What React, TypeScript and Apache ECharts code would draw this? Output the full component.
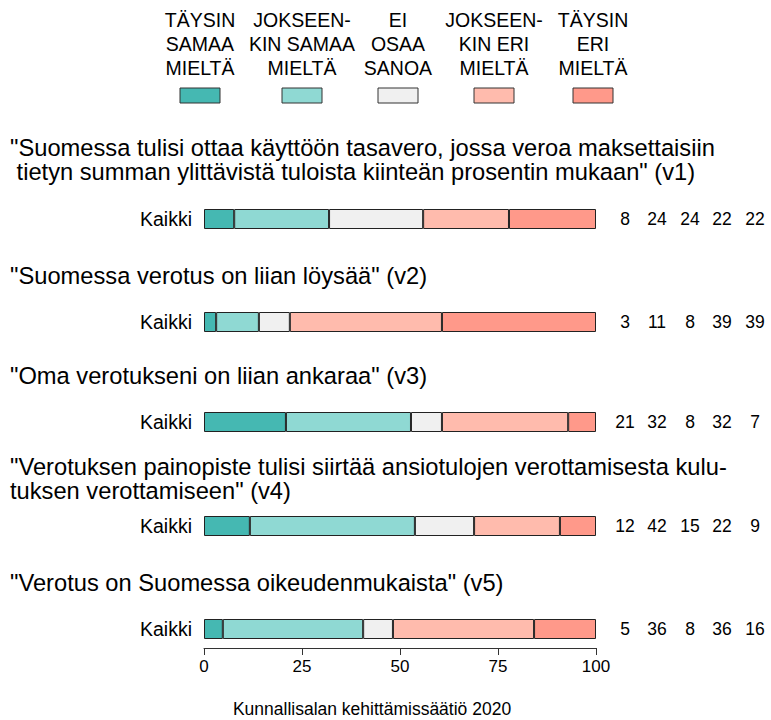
import React, { useEffect, useRef } from "react";
import * as echarts from "echarts";

const answerNames = [
  "TÄYSIN\nSAMAA\nMIELTÄ",
  "JOKSEEN-\nKIN SAMAA\nMIELTÄ",
  "EI\nOSAA\nSANOA",
  "JOKSEEN-\nKIN ERI\nMIELTÄ",
  "TÄYSIN\nERI\nMIELTÄ",
];
const colors = ["#45B8B2", "#8FD9D3", "#F0F0F0", "#FFBBAD", "#FF998A"];

const questions = [
  "\"Suomessa tulisi ottaa käyttöön tasavero, jossa veroa maksettaisiin\n tietyn summan ylittävistä tuloista kiinteän prosentin mukaan\" (v1)",
  "\"Suomessa verotus on liian löysää\" (v2)",
  "\"Oma verotukseni on liian ankaraa\" (v3)",
  "\"Verotuksen painopiste tulisi siirtää ansiotulojen verottamisesta kulu-\ntuksen verottamiseen\" (v4)",
  "\"Verotus on Suomessa oikeudenmukaista\" (v5)",
];
const groupLabel = "Kaikki";

// bar values (percent) per question
const v1 = [7.7, 24.2, 24.0, 21.9, 22.2];
const v2 = [3.1, 10.9, 7.9, 38.8, 39.3];
const v3 = [20.9, 31.9, 7.9, 32.2, 7.1];
const v4 = [11.7, 42.1, 15.1, 21.9, 9.2];
const v5 = [4.8, 35.8, 7.6, 36.0, 15.8];
const values = [v1, v2, v3, v4, v5];

// printed labels
const l1 = ["8", "24", "24", "22", "22"];
const l2 = ["3", "11", "8", "39", "39"];
const l3 = ["21", "32", "8", "32", "7"];
const l4 = ["12", "42", "15", "22", "9"];
const l5 = ["5", "36", "8", "36", "16"];
const printed = [l1, l2, l3, l4, l5];

const xTicks = [0, 25, 50, 75, 100];
const source = "Kunnallisalan kehittämissäätiö 2020";

const FONT = "Liberation Sans, Arial, sans-serif";

export default function App() {
  const ref = useRef<HTMLDivElement>(null);
  useEffect(() => {
    if (!ref.current) return;
    const chart = echarts.init(ref.current, null, { renderer: "svg" });

    const barCenters = [219, 322, 422, 526, 629];
    const titleTops = [136, 264, 364, 455, 571];
    const gridLeft = 204;
    const gridWidth = 392;
    const barH = 20;

    const grids = barCenters.map((c) => ({
      left: gridLeft,
      width: gridWidth,
      top: c - barH / 2,
      height: barH,
    }));

    const xAxes = barCenters.map((_, i) => {
      const last = i === barCenters.length - 1;
      return {
        type: "value",
        gridIndex: i,
        min: 0,
        max: 100,
        interval: 25,
        position: "bottom",
        offset: 9,
        show: last,
        splitLine: { show: false },
        axisLine: { show: last, lineStyle: { color: "#333", width: 1 } },
        axisTick: { show: last, length: 7, lineStyle: { color: "#333" } },
        axisLabel: {
          show: last,
          fontSize: 17,
          color: "#000",
          fontFamily: FONT,
          margin: 10,
          formatter: (v: number) => (xTicks.includes(v) ? String(v) : ""),
        },
      };
    });

    const yAxes = barCenters.map((_, i) => ({
      type: "category",
      gridIndex: i,
      data: [groupLabel],
      axisLine: { show: false },
      axisTick: { show: false },
      axisLabel: { fontSize: 19.5, color: "#000", fontFamily: FONT, margin: 12 },
    }));

    const series: any[] = [];
    values.forEach((vals, qi) => {
      vals.forEach((v, ai) => {
        series.push({
          type: "bar",
          name: answerNames[ai],
          xAxisIndex: qi,
          yAxisIndex: qi,
          stack: "q" + qi,
          barWidth: barH,
          data: [v],
          itemStyle: { color: colors[ai], borderColor: "#222", borderWidth: 1 },
          silent: true,
        });
      });
    });

    const valueXs = [625, 657, 690, 722, 755];
    const graphics: any[] = [];
    printed.forEach((labs, qi) => {
      labs.forEach((t, ai) => {
        graphics.push({
          type: "text",
          x: valueXs[ai],
          y: barCenters[qi],
          style: {
            text: t,
            fontSize: 17.5,
            fontFamily: FONT,
            fill: "#000",
            align: "center",
            verticalAlign: "middle",
          },
        });
      });
    });

    const legendXs = [200, 302, 398, 494, 593];
    answerNames.forEach((n, i) => {
      graphics.push({
        type: "text",
        x: legendXs[i],
        y: 8,
        style: {
          text: n,
          fontSize: 19.5,
          lineHeight: 24,
          fontFamily: FONT,
          fill: "#000",
          align: "center",
          verticalAlign: "top",
        },
      });
      graphics.push({
        type: "rect",
        shape: { x: legendXs[i] - 20, y: 88, width: 40, height: 15 },
        style: { fill: colors[i], stroke: "#333", lineWidth: 1 },
      });
    });

    questions.forEach((q, i) => {
      graphics.push({
        type: "text",
        x: 10,
        y: titleTops[i],
        style: {
          text: q,
          fontSize: 23.7,
          lineHeight: 24,
          fontFamily: FONT,
          fill: "#000",
          align: "left",
          verticalAlign: "top",
        },
      });
    });

    graphics.push({
      type: "text",
      x: 372,
      y: 709,
      style: {
        text: source,
        fontSize: 17.5,
        fontFamily: FONT,
        fill: "#000",
        align: "center",
        verticalAlign: "middle",
      },
    });

    chart.setOption({
      animation: false,
      backgroundColor: "#fff",
      grid: grids,
      xAxis: xAxes,
      yAxis: yAxes,
      series,
      graphic: graphics,
    });
    return () => chart.dispose();
  }, []);

  return (
    <div
      ref={ref}
      style={{ position: "absolute", left: 0, top: 0, width: 771, height: 720 }}
    />
  );
}
